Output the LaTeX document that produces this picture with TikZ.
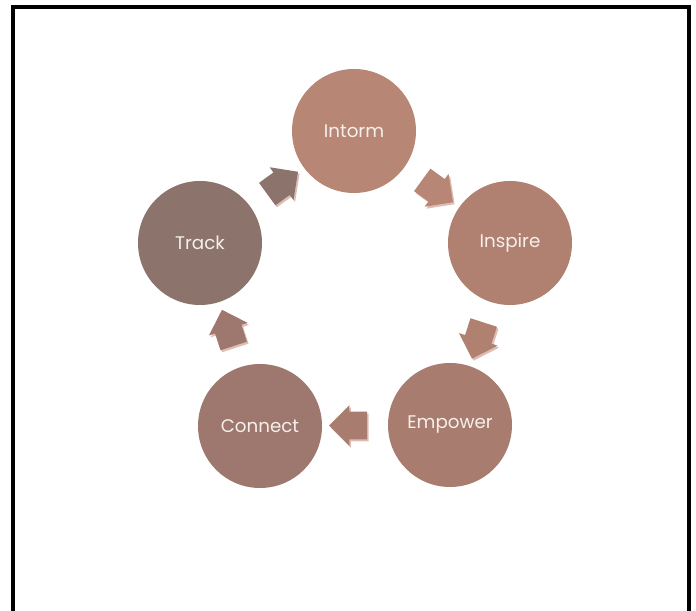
\documentclass[tikz,border=0pt]{standalone}
\usepackage{fontspec}
\setmainfont{Poppins}
\usetikzlibrary{calc,shapes.arrows}

\definecolor{informclr}{RGB}{184,134,116}
\definecolor{inspireclr}{RGB}{176,128,112}
\definecolor{empowerclr}{RGB}{168,124,110}
\definecolor{connectclr}{RGB}{158,120,110}
\definecolor{trackclr}{RGB}{140,115,107}
\definecolor{shadowclr}{RGB}{222,190,180}
\definecolor{labelclr}{RGB}{245,240,236}

\tikzset{
	stage/.style={circle, minimum size=3.1cm, inner sep=0pt, text=labelclr, font=\fontsize{13}{15}\selectfont},
	cyclearrow/.style={single arrow, single arrow head extend=0.16cm, minimum height=0.95cm, minimum width=1.0cm, inner xsep=0pt, inner ysep=0.34cm},
	arrowshadow/.style={cyclearrow, fill=shadowclr, xshift=0.04cm, yshift=-0.05cm}
}

\begin{document}
\begin{tikzpicture}
			%%%%% START %%%%%
			
			\useasboundingbox (0, 0) rectangle (17.4, 15.275);
			\fill[white] (0, 0) rectangle (17.4, 15.275);
			\draw[line width=0.1cm, line join=miter] (0.325, 0) -- (0.325, 15.1) -- (17.225, 15.1) -- (17.225, 0);
			
			\node[stage, fill=informclr] (inform) at (8.85, 12.0) {Intorm};
			\node[stage, fill=inspireclr] (inspire) at (12.75, 9.2) {Inspire};
			\node[stage, fill=empowerclr] (empower) at (11.25, 4.65) {Empower};
			\node[stage, fill=connectclr] (connect) at (6.5, 4.625) {Connect};
			\node[stage, fill=trackclr] (track) at (5.0, 9.2) {Track};
			
			\node[arrowshadow, rotate=-36] at ($(inform)!0.5!(inspire)$) {};
			\node[cyclearrow, fill=informclr, rotate=-36] (toinspire) at ($(inform)!0.5!(inspire)$) {};
			
			\node[arrowshadow, rotate=-108] at ($(inspire)!0.5!(empower)$) {};
			\node[cyclearrow, fill=inspireclr, rotate=-108] (toempower) at ($(inspire)!0.5!(empower)$) {};
			
			\node[arrowshadow, rotate=180] at ($(empower)!0.5!(connect)$) {};
			\node[cyclearrow, fill=empowerclr, rotate=180] (toconnect) at ($(empower)!0.5!(connect)$) {};
			
			\node[arrowshadow, rotate=108] at ($(connect)!0.5!(track)$) {};
			\node[cyclearrow, fill=connectclr, rotate=108] (totrack) at ($(connect)!0.5!(track)$) {};
			
			\node[arrowshadow, rotate=36] at ($(track)!0.5!(inform)$) {};
			\node[cyclearrow, fill=trackclr, rotate=36] (toinform) at ($(track)!0.5!(inform)$) {};
			
			%%%%% END %%%%%
\end{tikzpicture}
\end{document}
